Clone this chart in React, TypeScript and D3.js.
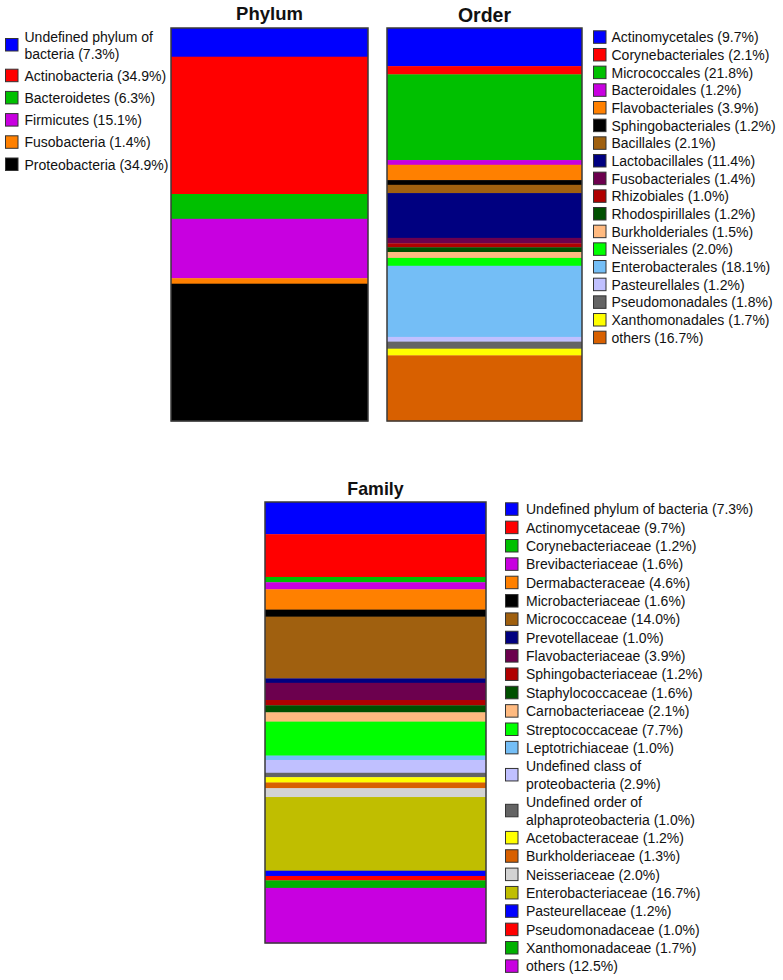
import React from "react";
import * as d3 from "d3";

const phylumNames = ["Undefined phylum of bacteria", "Actinobacteria", "Bacteroidetes", "Firmicutes", "Fusobacteria", "Proteobacteria"];
const phylumValues = [7.3, 34.9, 6.3, 15.1, 1.4, 34.9];
const phylumColors = ["#0000FF", "#FF0000", "#00C000", "#C800E0", "#FF8000", "#000000"];

const orderNames = ["Actinomycetales", "Corynebacteriales", "Micrococcales", "Bacteroidales", "Flavobacteriales", "Sphingobacteriales", "Bacillales", "Lactobacillales", "Fusobacteriales", "Rhizobiales", "Rhodospirillales", "Burkholderiales", "Neisseriales", "Enterobacterales", "Pasteurellales", "Pseudomonadales", "Xanthomonadales", "others"];
const orderValues = [9.7, 2.1, 21.8, 1.2, 3.9, 1.2, 2.1, 11.4, 1.4, 1.0, 1.2, 1.5, 2.0, 18.1, 1.2, 1.8, 1.7, 16.7];
const orderColors = ["#0000FF", "#FF0000", "#00C000", "#C800E0", "#FF8000", "#000000", "#A0600F", "#000080", "#6C004E", "#B00000", "#005000", "#FFBA80", "#00FF00", "#74BEF6", "#C0C0FF", "#646464", "#FFFF00", "#D86000"];

const familyNames = ["Undefined phylum of bacteria", "Actinomycetaceae", "Corynebacteriaceae", "Brevibacteriaceae", "Dermabacteraceae", "Microbacteriaceae", "Micrococcaceae", "Prevotellaceae", "Flavobacteriaceae", "Sphingobacteriaceae", "Staphylococcaceae", "Carnobacteriaceae", "Streptococcaceae", "Leptotrichiaceae", "Undefined class of proteobacteria", "Undefined order of alphaproteobacteria", "Acetobacteraceae", "Burkholderiaceae", "Neisseriaceae", "Enterobacteriaceae", "Pasteurellaceae", "Pseudomonadaceae", "Xanthomonadaceae", "others"];
const familyValues = [7.3, 9.7, 1.2, 1.6, 4.6, 1.6, 14.0, 1.0, 3.9, 1.2, 1.6, 2.1, 7.7, 1.0, 2.9, 1.0, 1.2, 1.3, 2.0, 16.7, 1.2, 1.0, 1.7, 12.5];
const familyColors = ["#0000FF", "#FF0000", "#00C000", "#C800E0", "#FF8000", "#000000", "#A0600F", "#000080", "#6C004E", "#B00000", "#005000", "#FFBA80", "#00FF00", "#74BEF6", "#C0C0FF", "#646464", "#FFFF00", "#D86000", "#D3D3D3", "#C0BE00", "#0000FF", "#FF0000", "#00B000", "#C800E0"];

const FONT = "'Liberation Sans', Arial, Helvetica, sans-serif";

type Panel = {
  title: string;
  names: string[];
  values: number[];
  colors: string[];
  bar: { x0: number; x1: number; y0: number; y1: number };
  titleY: number;
  titleSize: number;
  legend: { swatchX: number; textX: number; firstY: number; itemGap: number; lineGap: number; wrap: number };
};

const panels: Panel[] = [
  {
    title: "Phylum", names: phylumNames, values: phylumValues, colors: phylumColors,
    bar: { x0: 171, x1: 368, y0: 28, y1: 421 }, titleY: 19.8, titleSize: 18.5,
    legend: { swatchX: 5, textX: 24.5, firstY: 36.5, itemGap: 22.2, lineGap: 17, wrap: 24 },
  },
  {
    title: "Order", names: orderNames, values: orderValues, colors: orderColors,
    bar: { x0: 387, x1: 582, y0: 28, y1: 421 }, titleY: 22.3, titleSize: 19.5,
    legend: { swatchX: 593, textX: 611.5, firstY: 37.3, itemGap: 17.67, lineGap: 17.67, wrap: 60 },
  },
  {
    title: "Family", names: familyNames, values: familyValues, colors: familyColors,
    bar: { x0: 265, x1: 486, y0: 502, y1: 943 }, titleY: 495, titleSize: 17.8,
    legend: { swatchX: 505, textX: 526, firstY: 509.3, itemGap: 18.35, lineGap: 17.5, wrap: 36 },
  },
];

function wrapLabel(label: string, limit: number): string[] {
  if (label.length <= limit) return [label];
  const i = label.indexOf(" of ");
  if (i < 0) return [label];
  return [label.slice(0, i + 3), label.slice(i + 4)];
}

function StackPanel({ p }: { p: Panel }) {
  const total = d3.sum(p.values);
  const y = d3.scaleLinear().domain([0, total]).range([p.bar.y0, p.bar.y1]);
  const ends = Array.from(d3.cumsum(p.values));
  const starts = ends.map((e, i) => e - p.values[i]);
  const L = p.legend;
  let cursor = L.firstY;
  const items = p.names.map((n, i) => {
    const lines = wrapLabel(`${n} (${p.values[i].toFixed(1)}%)`, L.wrap);
    const ys = lines.map((_, k) => cursor + k * L.lineGap);
    const sy = cursor + ((lines.length - 1) * L.lineGap) / 2;
    cursor += (lines.length - 1) * L.lineGap + L.itemGap;
    return { lines, ys, sy, color: p.colors[i] };
  });
  return (
    <g>
      <text x={(p.bar.x0 + p.bar.x1) / 2} y={p.titleY} textAnchor="middle" fontFamily={FONT} fontWeight="bold" fontSize={p.titleSize} fill="#111">
        {p.title}
      </text>
      {p.values.map((v, i) => (
        <rect key={i} x={p.bar.x0} width={p.bar.x1 - p.bar.x0} y={y(starts[i])} height={y(ends[i]) - y(starts[i]) + 0.3} fill={p.colors[i]} />
      ))}
      <rect x={p.bar.x0} y={p.bar.y0} width={p.bar.x1 - p.bar.x0} height={p.bar.y1 - p.bar.y0} fill="none" stroke="#3a3a3a" strokeWidth={1.5} />
      {items.map((it, i) => (
        <g key={i}>
          <rect x={L.swatchX + 0.5} y={it.sy - 6.5} width={12.5} height={12.5} fill={it.color} stroke="#333" strokeWidth={1} />
          {it.lines.map((ln, k) => (
            <text key={k} x={L.textX} y={it.ys[k]} dy="0.36em" fontFamily={FONT} fontSize={14} fill="#111">
              {ln}
            </text>
          ))}
        </g>
      ))}
    </g>
  );
}

export default function App() {
  return (
    <svg width={783} height={980} style={{ position: "absolute", left: 0, top: 0, background: "#fff" }}>
      <rect width={783} height={980} fill="#fff" />
      {panels.map((p) => (
        <StackPanel key={p.title} p={p} />
      ))}
    </svg>
  );
}
